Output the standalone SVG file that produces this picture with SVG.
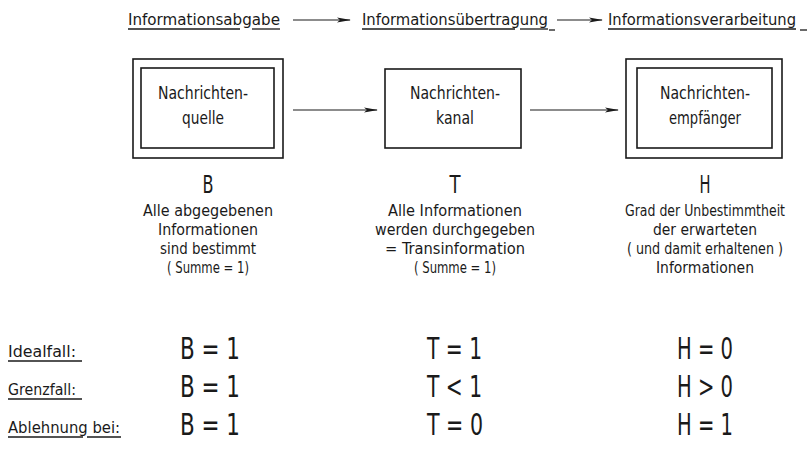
<svg xmlns="http://www.w3.org/2000/svg" width="811" height="450" viewBox="0 0 811 450">
<defs>
<marker id="ah" markerWidth="14" markerHeight="6" refX="13" refY="3" orient="auto" markerUnits="userSpaceOnUse">
<path d="M0,0.5 L14,3 L0,5.5 L3,3 Z" fill="#1a1a1a"/>
</marker>
<style>
text{font-family:'DejaVu Sans Condensed','DejaVu Sans',sans-serif;font-stretch:condensed;fill:#1a1a1a}
.h{font-size:16px}
.b{font-size:17px;text-anchor:middle}
.l{font-size:24px;text-anchor:middle}
.d{font-size:16px;text-anchor:middle}
.e{font-size:30px}
.u{stroke:#1a1a1a;stroke-width:1.3}
.bx{fill:none;stroke:#1a1a1a;stroke-width:1.6}
.c{stroke:#1a1a1a;stroke-width:1.2;fill:none}
</style>
</defs>
<rect width="811" height="450" fill="#fff"/>
<g id="headings">
<text class="h" x="128" y="25" textLength="152" lengthAdjust="spacingAndGlyphs">Informationsabgabe</text>
<line class="u" x1="128" y1="29" x2="240" y2="29"/><line class="u" x1="252" y1="29" x2="280" y2="29"/>
<text class="h" x="362" y="25" textLength="186" lengthAdjust="spacingAndGlyphs">Informationsübertragung</text>
<line class="u" x1="362" y1="29" x2="515" y2="29"/><line class="u" x1="520" y1="29" x2="548" y2="29"/><line class="u" x1="549" y1="30" x2="555" y2="30"/>
<text class="h" x="608" y="25" textLength="188" lengthAdjust="spacingAndGlyphs">Informationsverarbeitung</text>
<line class="u" x1="608" y1="29" x2="796" y2="29"/><line class="u" x1="800" y1="30" x2="807" y2="30"/>
</g>
<g id="connectors">
<line class="c" x1="293" y1="20" x2="350" y2="20" marker-end="url(#ah)"/>
<line class="c" x1="557" y1="20" x2="602" y2="20" marker-end="url(#ah)"/>
<line class="c" x1="293" y1="110" x2="377" y2="110" marker-end="url(#ah)"/>
<line class="c" x1="530" y1="110" x2="618" y2="110" marker-end="url(#ah)"/>
</g>
<g id="quelle">
<rect class="bx" x="133" y="59" width="150" height="99"/>
<rect class="bx" x="141" y="68" width="133" height="80"/>
<text class="b" x="203" y="99" textLength="90" lengthAdjust="spacingAndGlyphs">Nachrichten-</text>
<text class="b" x="203" y="124" textLength="42" lengthAdjust="spacingAndGlyphs">quelle</text>
</g>
<g id="kanal">
<rect class="bx" x="385" y="69" width="136" height="79"/>
<text class="b" x="455" y="99" textLength="90" lengthAdjust="spacingAndGlyphs">Nachrichten-</text>
<text class="b" x="455" y="124" textLength="38" lengthAdjust="spacingAndGlyphs">kanal</text>
</g>
<g id="empfaenger">
<rect class="bx" x="626" y="59" width="156" height="99"/>
<rect class="bx" x="637" y="68" width="135" height="80"/>
<text class="b" x="705" y="99" textLength="90" lengthAdjust="spacingAndGlyphs">Nachrichten-</text>
<text class="b" x="705" y="124" textLength="72" lengthAdjust="spacingAndGlyphs">empfänger</text>
</g>
<g id="B">
<text class="l" x="208" y="193" textLength="11" lengthAdjust="spacingAndGlyphs">B</text>
<text class="d" x="208" y="216" textLength="130" lengthAdjust="spacingAndGlyphs">Alle abgegebenen</text>
<text class="d" x="208" y="235" textLength="100" lengthAdjust="spacingAndGlyphs">Informationen</text>
<text class="d" x="208" y="254" textLength="96" lengthAdjust="spacingAndGlyphs">sind bestimmt</text>
<text class="d" x="208" y="273" textLength="82" lengthAdjust="spacingAndGlyphs">( Summe = 1)</text>
</g>
<g id="T">
<text class="l" x="455" y="193" textLength="11" lengthAdjust="spacingAndGlyphs">T</text>
<text class="d" x="455" y="216" textLength="134" lengthAdjust="spacingAndGlyphs">Alle Informationen</text>
<text class="d" x="455" y="235" textLength="160" lengthAdjust="spacingAndGlyphs">werden durchgegeben</text>
<text class="d" x="455" y="254" textLength="140" lengthAdjust="spacingAndGlyphs">= Transinformation</text>
<text class="d" x="455" y="273" textLength="82" lengthAdjust="spacingAndGlyphs">( Summe = 1)</text>
</g>
<g id="H">
<text class="l" x="705" y="193" textLength="11" lengthAdjust="spacingAndGlyphs">H</text>
<text class="d" x="705" y="216" textLength="160" lengthAdjust="spacingAndGlyphs">Grad der Unbestimmtheit</text>
<text class="d" x="705" y="235" textLength="104" lengthAdjust="spacingAndGlyphs">der erwarteten</text>
<text class="d" x="705" y="254" textLength="156" lengthAdjust="spacingAndGlyphs">( und damit erhaltenen )</text>
<text class="d" x="705" y="273" textLength="98" lengthAdjust="spacingAndGlyphs">Informationen</text>
</g>
<g id="cases">
<text class="h" x="8" y="357" textLength="68" lengthAdjust="spacingAndGlyphs">Idealfall:</text>
<line class="u" x1="8" y1="361" x2="82" y2="361"/>
<text class="h" x="8" y="395" textLength="68" lengthAdjust="spacingAndGlyphs">Grenzfall:</text>
<line class="u" x1="8" y1="399" x2="82" y2="399"/>
<text class="h" x="8" y="433" textLength="112" lengthAdjust="spacingAndGlyphs">Ablehnung bei:</text>
<line class="u" x1="8" y1="437" x2="83" y2="437"/><line class="u" x1="87" y1="437" x2="121" y2="437"/>
<text class="e" x="180" y="359" textLength="60" lengthAdjust="spacingAndGlyphs">B = 1</text>
<text class="e" x="180" y="397" textLength="60" lengthAdjust="spacingAndGlyphs">B = 1</text>
<text class="e" x="180" y="435" textLength="60" lengthAdjust="spacingAndGlyphs">B = 1</text>
<text class="e" x="427" y="359" textLength="55" lengthAdjust="spacingAndGlyphs">T = 1</text>
<text class="e" x="427" y="397" textLength="55" lengthAdjust="spacingAndGlyphs">T &lt; 1</text>
<text class="e" x="427" y="435" textLength="56" lengthAdjust="spacingAndGlyphs">T = 0</text>
<text class="e" x="677" y="359" textLength="56" lengthAdjust="spacingAndGlyphs">H = 0</text>
<text class="e" x="677" y="397" textLength="56" lengthAdjust="spacingAndGlyphs">H &gt; 0</text>
<text class="e" x="677" y="435" textLength="56" lengthAdjust="spacingAndGlyphs">H = 1</text>
</g>
</svg>
